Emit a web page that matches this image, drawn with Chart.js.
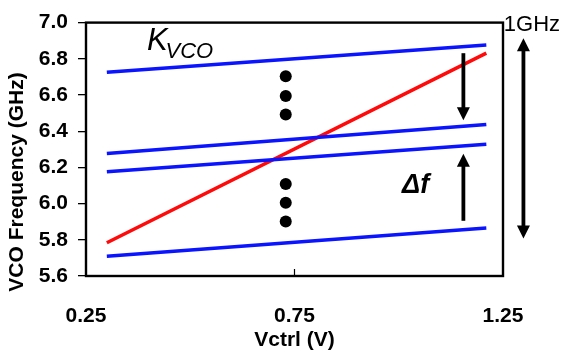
<!DOCTYPE html>
<html>
<head>
<meta charset="utf-8">
<script src="https://cdn.jsdelivr.net/npm/chart.js@4/dist/chart.umd.min.js"></script>
<style>
  html, body { margin: 0; padding: 0; background: #fff; }
  #c { display: block; }
</style>
</head>
<body>
<canvas id="c" width="561" height="354"></canvas>
<script>
// ---- data ----
const xTicks = [0.25, 0.75, 1.25];
const yTicks = [5.6, 5.8, 6.0, 6.2, 6.4, 6.6, 6.8, 7.0];
const vctrl = [0.30, 1.21];                 // control voltage endpoints (V)
const band1 = [6.726, 6.876];               // GHz
const band2 = [6.277, 6.437];
const band3 = [6.176, 6.328];
const band4 = [5.709, 5.865];
const wideBand = [5.784, 6.831];            // red, high Kvco
const dotsX = [0.729, 0.729, 0.729, 0.729, 0.729, 0.729];
const dotsY = [6.704, 6.595, 6.492, 6.108, 6.005, 5.901];
// annotations (data units)
const arrowX = [1.155, 1.155, 1.299];
const arrowFrom = [6.831, 5.905, 5.807];
const arrowTo = [6.461, 6.2755, 6.913];
const arrowBoth = [false, false, true];
const xTitle = 'Vctrl (V)';
const yTitle = 'VCO Frequency (GHz)';

const toPts = (ys) => vctrl.map((x, i) => ({ x: x, y: ys[i] }));
const BLUE = '#0a14ff';
const RED = '#ff0a0a';
const lineDs = (ys, color) => ({
  data: toPts(ys), showLine: true, borderColor: color, borderWidth: 3.5,
  pointRadius: 0, pointHoverRadius: 0, fill: false
});

const decor = {
  id: 'decor',
  afterDatasetsDraw(chart) {
    const { ctx, chartArea: a, scales: { x, y } } = chart;
    ctx.save();
    // plot frame
    ctx.strokeStyle = '#000';
    ctx.lineWidth = 2.4;
    ctx.strokeRect(a.left, a.top, a.right - a.left, a.bottom - a.top);
    // inner tick marks on the x axis
    ctx.lineWidth = 1.2;
    xTicks.forEach(v => {
      const px = x.getPixelForValue(v);
      ctx.beginPath(); ctx.moveTo(px, a.bottom); ctx.lineTo(px, a.bottom - 7); ctx.stroke();
    });
    // arrows
    ctx.fillStyle = '#000';
    arrowX.forEach((xv, i) => {
      const px = x.getPixelForValue(xv);
      const p1 = y.getPixelForValue(arrowFrom[i]);
      const p2 = y.getPixelForValue(arrowTo[i]);
      const hl = 13, hw = 6.5;
      const dir = Math.sign(p2 - p1);
      ctx.lineWidth = 3.8;
      ctx.beginPath();
      ctx.moveTo(px, arrowBoth[i] ? p1 + dir * (hl - 2) : p1);
      ctx.lineTo(px, p2 - dir * (hl - 2));
      ctx.stroke();
      const head = (tip, d) => {
        ctx.beginPath();
        ctx.moveTo(px, tip);
        ctx.lineTo(px - hw, tip - d * hl);
        ctx.lineTo(px + hw, tip - d * hl);
        ctx.closePath(); ctx.fill();
      };
      head(p2, dir);
      if (arrowBoth[i]) head(p1, -dir);
    });
    // text annotations
    ctx.fillStyle = '#000';
    ctx.textBaseline = 'alphabetic';
    ctx.textAlign = 'left';
    let kx = x.getPixelForValue(0.396), ky = y.getPixelForValue(6.847);
    ctx.font = 'italic 31px "Liberation Sans", Arial, sans-serif';
    ctx.fillText('K', kx, ky);
    const kw = ctx.measureText('K').width;
    ctx.font = 'italic 22px "Liberation Sans", Arial, sans-serif';
    ctx.fillText('VCO', kx + kw - 2, ky + 8);
    ctx.font = 'italic bold 27px "Liberation Sans", Arial, sans-serif';
    ctx.fillText('\u0394f', x.getPixelForValue(1.008), y.getPixelForValue(6.058));
    ctx.font = '22px "Liberation Sans", Arial, sans-serif';
    ctx.fillText('1GHz', x.getPixelForValue(1.252), y.getPixelForValue(6.951));
    // y axis title
    ctx.font = 'bold 21px "Liberation Sans", Arial, sans-serif';
    ctx.textAlign = 'center';
    ctx.textBaseline = 'middle';
    ctx.translate(17, 182);
    ctx.rotate(-Math.PI / 2);
    ctx.fillText(yTitle, 0, 0);
    ctx.restore();
  }
};

new Chart(document.getElementById('c'), {
  type: 'scatter',
  data: {
    datasets: [
      lineDs(band1, BLUE),
      lineDs(band2, BLUE),
      lineDs(band3, BLUE),
      lineDs(band4, BLUE),
      lineDs(wideBand, RED),
      {
        data: dotsX.map((x, i) => ({ x: x, y: dotsY[i] })),
        showLine: false, pointRadius: 6, pointHoverRadius: 6,
        backgroundColor: '#000', borderColor: '#000', borderWidth: 0
      }
    ]
  },
  options: {
    responsive: false,
    devicePixelRatio: 1,
    animation: false,
    events: [],
    layout: { padding: { left: 0, right: 58, top: 19, bottom: 0 } },
    plugins: { legend: { display: false }, tooltip: { enabled: false }, title: { display: false } },
    scales: {
      x: {
        type: 'linear', min: 0.25, max: 1.25,
        afterBuildTicks: s => { s.ticks = xTicks.map(v => ({ value: v })); },
        afterFit: s => { s.height = 78; },
        grid: { drawOnChartArea: false, drawTicks: false },
        border: { display: false },
        ticks: {
          padding: 28, color: '#000', maxRotation: 0, autoSkip: false,
          font: { family: '"Liberation Sans", Arial, sans-serif', size: 21, weight: 'bold' },
          callback: v => v.toFixed(2)
        },
        title: {
          display: true, text: xTitle, color: '#000',
          font: { family: '"Liberation Sans", Arial, sans-serif', size: 21, weight: 'bold' },
          padding: { top: 0, bottom: 1 }
        }
      },
      y: {
        type: 'linear', min: 5.6, max: 7.0,
        afterBuildTicks: s => { s.ticks = yTicks.map(v => ({ value: v })); },
        afterFit: s => { s.width = 86; },
        grid: { drawOnChartArea: false, drawTicks: true, tickLength: 8, color: '#000', lineWidth: 1.3 },
        border: { display: false },
        ticks: {
          padding: 10, color: '#000', autoSkip: false,
          font: { family: '"Liberation Sans", Arial, sans-serif', size: 21, weight: 'bold' },
          callback: v => v.toFixed(1)
        }
      }
    }
  },
  plugins: [decor]
});
</script>
</body>
</html>
